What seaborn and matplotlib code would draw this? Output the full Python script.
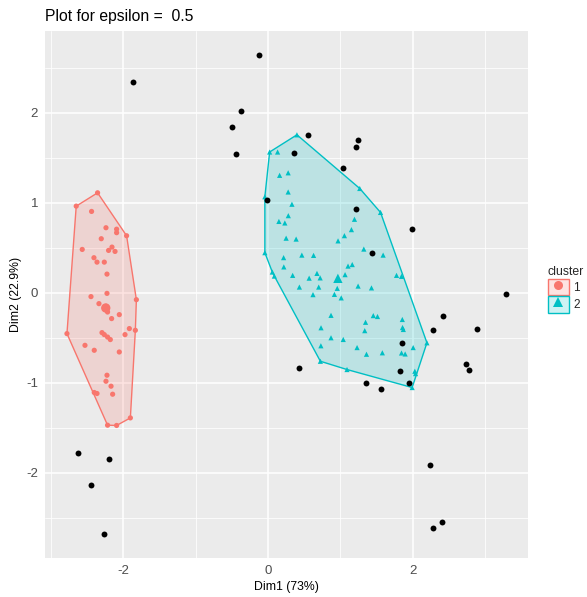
import numpy as np
import pandas as pd
import matplotlib
matplotlib.use("Agg")
import matplotlib.pyplot as plt
import seaborn as sns
from matplotlib.patches import Patch
from matplotlib.lines import Line2D
from matplotlib.legend_handler import HandlerTuple

# ---------------- data ----------------
c1_x = [-2.353, -2.648, -2.436, -2.237, -2.090, -2.090, -1.952, -2.302, -2.565, -2.154,
        -2.201, -2.112, -2.403, -2.361, -2.260, -2.223, -2.223, -2.444, -1.817, -2.334,
        -2.237, -2.251, -2.228, -2.215, -2.053, -2.159, -2.776, -2.292, -2.260, -2.215,
        -2.177, -1.914, -1.974, -1.831, -2.527, -2.399, -2.053, -2.223, -2.237, -2.167,
        -2.399, -2.361, -2.145, -1.900, -2.215, -2.090]
c1_y = [1.109, 0.961, 0.902, 0.721, 0.705, 0.666, 0.632, 0.599, 0.480, 0.506,
        0.469, 0.458, 0.388, 0.339, 0.339, 0.206, -0.008, -0.044, -0.078, -0.122,
        -0.152, -0.177, -0.196, -0.215, -0.244, -0.288, -0.455, -0.444, -0.466, -0.493,
        -0.521, -0.399, -0.466, -0.418, -0.585, -0.640, -0.659, -0.917, -0.984, -1.039,
        -1.109, -1.120, -1.128, -1.391, -1.472, -1.475]

c2_x = [0.401, 0.024, 0.134, 0.162, 0.280, 0.280, 0.332, -0.042, 0.282, 0.152,
        0.234, 0.252, 0.390, 0.969, 1.057, 1.154, 1.196, 1.269, 1.556, 1.325,
        1.592, -0.042, 0.217, 0.469, 0.631, 0.220, 0.061, 0.089, 0.342, 0.570,
        0.678, 0.722, 1.066, 1.107, 1.165, 0.435, 0.702, 0.958, 0.919, 1.013,
        0.623, 1.777, 1.846, 1.246, 1.431, 0.872, 0.734, 0.872, 1.041, 0.732,
        0.725, 1.093, 1.232, 1.362, 1.581, 1.349, 1.338, 1.456, 1.514, 1.857,
        1.860, 1.871, 1.846, 1.896, 2.007, 2.197, 2.030, 2.040, 1.993]
c2_y = [1.753, 1.562, 1.562, 1.303, 1.331, 1.118, 0.982, 1.065, 0.855, 0.791,
        0.774, 0.605, 0.595, 0.575, 0.633, 0.700, 0.815, 1.157, 0.891, 0.484,
        0.417, 0.444, 0.389, 0.417, 0.414, 0.286, 0.229, 0.184, 0.192, 0.161,
        0.214, 0.164, 0.200, 0.295, 0.312, 0.062, 0.062, 0.048, -0.019, -0.058,
        -0.022, 0.192, 0.181, 0.073, 0.053, -0.252, -0.390, -0.501, -0.520, -0.590,
        -0.762, -0.854, -0.610, -0.684, -0.668, -0.329, -0.422, -0.255, -0.265, -0.298,
        -0.387, -0.409, -0.670, -0.681, -0.610, -0.557, -0.873, -0.899, -1.054]

noise_x = [-1.869, -0.119, -0.368, -0.498, -0.447, -0.008, 0.360, 0.554, 1.251, 1.214,
           1.034, 1.214, 1.989, 1.445, 3.290, 2.418, 2.284, 2.884, 1.846, 0.425,
           1.823, 2.732, 2.782, 1.362, 1.564, 1.943, 2.238, 2.404, 2.284, -2.630,
           -2.201, -2.444, -2.270]
noise_y = [2.336, 2.640, 2.019, 1.845, 1.542, 1.024, 1.553, 1.753, 1.700, 1.623,
           1.382, 0.932, 0.710, 0.444, -0.019, -0.260, -0.418, -0.407, -0.559, -0.840,
           -0.865, -0.795, -0.854, -0.998, -1.065, -1.000, -1.912, -2.545, -2.615, -1.779,
           -1.846, -2.138, -2.681]

clusters = ["1", "2"]
centroid_x = [-2.24, 0.967]
centroid_y = [-0.17, 0.159]
colors = ["#F8766D", "#00BFC4"]
markers = ["o", "^"]

title_text = "Plot for epsilon =  0.5"
xlabel_text = "Dim1 (73%)"
ylabel_text = "Dim2 (22.9%)"
xticks = [-2, 0, 2]
yticks = [-2, -1, 0, 1, 2]

# ---------------- helpers ----------------
def convex_hull(xs, ys):
    pts = sorted(set(zip(xs, ys)))
    def cross(o, a, b):
        return (a[0] - o[0]) * (b[1] - o[1]) - (a[1] - o[1]) * (b[0] - o[0])
    lower = []
    for p in pts:
        while len(lower) >= 2 and cross(lower[-2], lower[-1], p) <= 0:
            lower.pop()
        lower.append(p)
    upper = []
    for p in reversed(pts):
        while len(upper) >= 2 and cross(upper[-2], upper[-1], p) <= 0:
            upper.pop()
        upper.append(p)
    h = lower[:-1] + upper[:-1]
    return np.array(h)

# ---------------- plot ----------------
sns.set_theme(style="darkgrid", rc={
    "axes.facecolor": "#EBEBEB",
    "grid.color": "white",
    "axes.edgecolor": "#EBEBEB",
})
plt.rcParams["font.family"] = ["Liberation Sans", "DejaVu Sans"]
plt.rcParams["axes.unicode_minus"] = False

fig = plt.figure(figsize=(5.87, 5.97), dpi=100)
ax = fig.add_axes([45 / 587, 1 - 558 / 597, (528 - 45) / 587, (558 - 31) / 597])

df = pd.DataFrame({
    "x": c1_x + c2_x,
    "y": c1_y + c2_y,
    "cluster": ["1"] * len(c1_x) + ["2"] * len(c2_x),
})

# hulls
for cl, col in zip(clusters, colors):
    sub = df[df["cluster"] == cl]
    h = convex_hull(sub["x"].tolist(), sub["y"].tolist())
    ax.fill(h[:, 0], h[:, 1], facecolor=col, alpha=0.2, edgecolor="none", zorder=2)
    hc = np.vstack([h, h[:1]])
    ax.plot(hc[:, 0], hc[:, 1], color=col, lw=1.0, zorder=3)

sns.scatterplot(data=df, x="x", y="y", hue="cluster", style="cluster",
                palette=dict(zip(clusters, colors)),
                markers=dict(zip(clusters, markers)),
                s=14, linewidth=0, legend=False, ax=ax, zorder=4)

cdf = pd.DataFrame({"x": centroid_x, "y": centroid_y, "cluster": clusters})
sns.scatterplot(data=cdf, x="x", y="y", hue="cluster", style="cluster",
                palette=dict(zip(clusters, colors)),
                markers=dict(zip(clusters, markers)),
                s=45, linewidth=0, legend=False, ax=ax, zorder=5)

sns.scatterplot(x=noise_x, y=noise_y, color="black", s=18, linewidth=0,
                legend=False, ax=ax, zorder=6)

# ggplot-like expansion
allx = np.array(c1_x + c2_x + noise_x)
ally = np.array(c1_y + c2_y + noise_y)
dx = (allx.max() - allx.min()) * 0.05
dy = (ally.max() - ally.min()) * 0.05
ax.set_xlim(allx.min() - dx, allx.max() + dx)
ax.set_ylim(ally.min() - dy, ally.max() + dy)

ax.set_xticks(xticks)
ax.set_yticks(yticks)
ax.set_xticks([-3, -1, 1, 3], minor=True)
ax.set_yticks([-2.5, -1.5, -0.5, 0.5, 1.5, 2.5], minor=True)
ax.grid(which="major", color="white", lw=1.1)
ax.grid(which="minor", color="white", lw=0.55)
ax.tick_params(which="major", length=3, width=0.8, color="#333333",
               labelsize=9.5, labelcolor="#4D4D4D", pad=2)
ax.tick_params(which="minor", length=0)
for sp in ax.spines.values():
    sp.set_visible(False)

ax.set_xlabel(xlabel_text, fontsize=8.8, color="black", labelpad=3)
ax.set_ylabel(ylabel_text, fontsize=8.8, color="black", labelpad=3)
ax.set_title(title_text, loc="left", fontsize=11.3, color="black", pad=7)

# legend
handles = []
for col, mk in zip(colors, markers):
    p = Patch(facecolor=matplotlib.colors.to_rgba(col, 0.2), edgecolor=col, lw=1.0)
    m = Line2D([], [], linestyle="none", marker=mk, color=col, markersize=6.5,
               markeredgewidth=0)
    handles.append((p, m))
leg = fig.legend(handles, clusters, title="cluster",
                 handler_map={tuple: HandlerTuple(ndivide=1, pad=0)},
                 loc="upper left", bbox_to_anchor=(548 / 587, 1 - 266 / 597),
                 frameon=False, fontsize=8.5, title_fontsize=8.8,
                 handlelength=1.75, handleheight=1.75, labelspacing=0.08,
                 handletextpad=0.4, borderpad=0, borderaxespad=0,
                 alignment="left")

fig.savefig("out.png", dpi=100)
